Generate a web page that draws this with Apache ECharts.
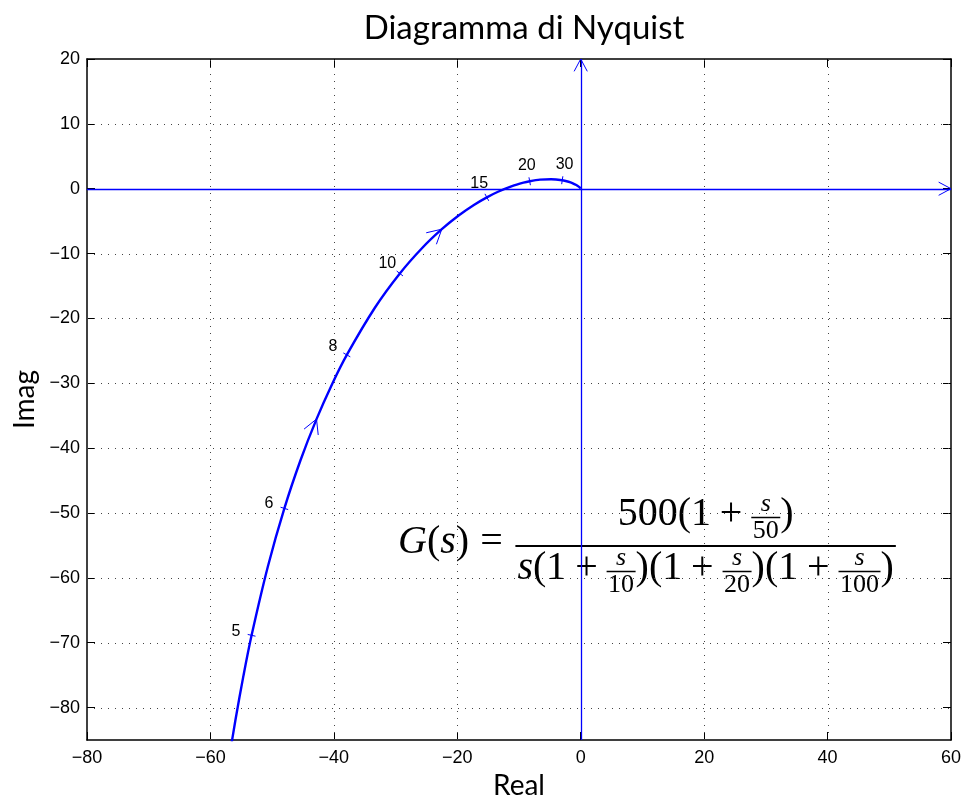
<!DOCTYPE html>
<html><head><meta charset="utf-8">
<script src="https://cdn.jsdelivr.net/npm/echarts@6/dist/echarts.min.js"></script>
<style>html,body{margin:0;padding:0;background:#fff}#c{width:963px;height:796px}</style>
</head><body><div id="c"></div>
<script>
// ---- data ----
const omega    = [4, 4.3, 4.5, 4.75, 5, 5.5, 6, 6.5, 7, 7.5, 8, 9, 10, 11, 12, 13, 14, 15, 16, 17.5, 19, 20, 22, 25, 30, 35, 40, 50, 70, 100, 200, 1000];
const realPart = [-58.46, -56.96, -55.94, -54.64, -53.33, -50.67, -48.02, -45.39, -42.81, -40.31, -37.90, -33.38, -29.31, -25.69, -22.51, -19.73, -17.31, -15.21, -13.40, -11.13, -9.29, -8.27, -6.60, -4.81, -2.99, -1.97, -1.36, -0.72, -0.27, -0.09, -0.01, 0];
const imagPart = [-97.96, -87.88, -81.87, -75.04, -68.86, -58.18, -49.29, -41.83, -35.52, -30.17, -25.62, -18.39, -13.07, -9.14, -6.24, -4.09, -2.50, -1.33, -0.47, 0.40, 0.93, 1.15, 1.40, 1.47, 1.31, 1.07, 0.87, 0.57, 0.28, 0.13, 0.02, 0];
const markOmega  = [5, 6, 8, 10, 15, 20, 30];
const markLabels = ['5', '6', '8', '10', '15', '20', '30'];
const arrowOmega = [7, 12];
const xTicks = [-80, -60, -40, -20, 0, 20, 40, 60];
const yTicks = [-80, -70, -60, -50, -40, -30, -20, -10, 0, 10, 20];
const xMin = -80, xMax = 60, yMin = -85, yMax = 20;
const titleText = 'Diagramma di Nyquist';
const xName = 'Real', yName = 'Imag';

// ---- styles ----
const BLUE = '#0000ff';
const SANS = '"Liberation Sans", Arial, sans-serif';
const CMS = 'Lato, "Noto Sans", sans-serif';
const SERIF = '"Liberation Serif", "DejaVu Serif", serif';
const fmt = v => (v < 0 ? '\u2212' + Math.abs(v) : String(v));

function chevron(tip, tx, ty, len, ang) {
  const bx = -tx, by = -ty;
  const c = Math.cos(ang), s = Math.sin(ang);
  const a1 = [tip[0] + len * (bx * c - by * s), tip[1] + len * (bx * s + by * c)];
  const a2 = [tip[0] + len * (bx * c + by * s), tip[1] + len * (-bx * s + by * c)];
  return [a1, tip, a2];
}
function tangentAt(api, i) {
  const a = api.coord([realPart[i - 1], imagPart[i - 1]]);
  const b = api.coord([realPart[i + 1], imagPart[i + 1]]);
  let tx = b[0] - a[0], ty = b[1] - a[1];
  const L = Math.hypot(tx, ty) || 1;
  return [tx / L, ty / L];
}

// ---- formula layout ----
const cv = document.createElement('canvas').getContext('2d');
const M = 40, S = 26;
function fontStr(size, it) { return (it ? 'italic ' : '') + size + 'px ' + SERIF; }
function tw(text, size, it) { cv.font = fontStr(size, it); return cv.measureText(text).width; }
const MID = 0.335;
function tokWidth(t, size) {
  if (t.gap !== undefined) return t.gap * size;
  if (t.frac) return Math.max(tw(t.frac[0], S, true), tw(t.frac[1], S, false)) + 3;
  return tw(t.s, size, t.it);
}
function rowWidth(toks, size) { return toks.reduce((a, t) => a + tokWidth(t, size), 0); }
function drawRow(toks, x, base, size, out) {
  for (const t of toks) {
    const wd = tokWidth(t, size);
    if (t.frac) {
      const by = base - 10.5;
      out.push({ type: 'rect', shape: { x: x, y: by - 0.75, width: wd, height: 1.5 }, style: { fill: '#000' } });
      out.push({ type: 'text', x: x + wd / 2, y: by - 5 - MID * S, style: { text: t.frac[0], font: fontStr(S, true), fill: '#000', align: 'center', verticalAlign: 'middle' } });
      out.push({ type: 'text', x: x + wd / 2, y: by + 22 - MID * S, style: { text: t.frac[1], font: fontStr(S, false), fill: '#000', align: 'center', verticalAlign: 'middle' } });
    } else if (t.s !== undefined) {
      out.push({ type: 'text', x: x, y: base - MID * size, style: { text: t.s, font: fontStr(size, t.it), fill: '#000', align: 'left', verticalAlign: 'middle' } });
    }
    x += wd;
  }
  return x;
}
const MED = 0.222, THICK = 0.278;
const lhsToks = [{ s: 'G', it: true }, { s: '(' }, { s: 's', it: true }, { s: ')' }, { gap: THICK }, { s: '=' }, { gap: THICK }];
const numToks = [{ s: '500(1' }, { gap: MED }, { s: '+' }, { gap: MED }, { frac: ['s', '50'] }, { s: ')' }];
const denToks = [{ s: 's', it: true }, { s: '(1' }, { gap: MED }, { s: '+' }, { gap: MED }, { frac: ['s', '10'] },
  { s: ')(1' }, { gap: MED }, { s: '+' }, { gap: MED }, { frac: ['s', '20'] },
  { s: ')(1' }, { gap: MED }, { s: '+' }, { gap: MED }, { frac: ['s', '100'] }, { s: ')' }];
const formula = [];
(function () {
  const x0 = 398, base = 556;
  const xe = drawRow(lhsToks, x0, base, M, formula);
  const barX = xe + 1.5;
  const nw = rowWidth(numToks, M), dw = rowWidth(denToks, M);
  const bw = Math.max(nw, dw) + 4;
  const barY = base - 10;
  formula.push({ type: 'rect', shape: { x: barX, y: barY - 1, width: bw, height: 2 }, style: { fill: '#000' } });
  drawRow(numToks, barX + (bw - nw) / 2, barY - 18, M, formula);
  drawRow(denToks, barX + (bw - dw) / 2, barY + 36, M, formula);
})();

// ---- chart ----
const chart = echarts.init(document.getElementById('c'));
const axisCommon = {
  type: 'value', min: xMin, max: xMax, interval: 20,
  axisLine: { onZero: false, lineStyle: { color: '#000', width: 1.5 } },
  axisTick: { inside: true, length: 8, lineStyle: { color: '#000', width: 1 } },
  splitLine: { show: false }
};
const option = {
  animation: false,
  backgroundColor: '#fff',
  title: { text: titleText, left: 519, top: 7, textAlign: 'center',
    textStyle: { fontFamily: CMS, fontSize: 33, fontWeight: 'normal', color: '#000' } },
  grid: { left: 87, right: 12, top: 59, bottom: 56, containLabel: false, outerBoundsMode: 'none' },
  xAxis: [
    Object.assign({}, axisCommon, { position: 'bottom',
      axisLabel: { formatter: fmt, fontFamily: SANS, fontSize: 18, color: '#000', margin: 9 },
      name: xName, nameLocation: 'middle', nameGap: 28,
      nameTextStyle: { fontFamily: CMS, fontSize: 28, color: '#000' } }),
    Object.assign({}, axisCommon, { position: 'top', axisLabel: { show: false } })
  ],
  yAxis: [
    { type: 'value', min: yMin, max: yMax, position: 'left',
      axisLine: { onZero: false, lineStyle: { color: '#000', width: 1.5 } },
      axisTick: { inside: true, length: 8, customValues: yTicks, lineStyle: { color: '#000', width: 1 } },
      axisLabel: { customValues: yTicks, formatter: fmt, fontFamily: SANS, fontSize: 18, color: '#000', margin: 7 },
      splitLine: { show: false },
      name: yName, nameLocation: 'middle', nameGap: 47,
      nameTextStyle: { fontFamily: CMS, fontSize: 28, color: '#000' } },
    { type: 'value', min: yMin, max: yMax, position: 'right',
      axisLine: { onZero: false, lineStyle: { color: '#000', width: 1.5 } },
      axisTick: { inside: true, length: 8, customValues: yTicks, lineStyle: { color: '#000', width: 1 } },
      axisLabel: { show: false }, splitLine: { show: false } }
  ],
  graphic: formula,
  series: [
    { // dotted grid
      type: 'custom', name: 'grid', z: 1, silent: true,
      data: xTicks.filter(v => v > xMin && v < xMax && v !== 0).map(v => [v, 0])
        .concat(yTicks.filter(v => v > yMin && v < yMax && v !== 0).map(v => [v, 1])),
      renderItem(params, api) {
        const v = api.value(0), dir = api.value(1);
        let a, b;
        if (dir === 0) { a = api.coord([v, yMin]); b = api.coord([v, yMax]); }
        else { a = api.coord([xMin, v]); b = api.coord([xMax, v]); }
        const r = q => Math.round(q) + 0.5;
        return { type: 'line', shape: dir === 0 ? { x1: r(a[0]), y1: a[1], x2: r(b[0]), y2: b[1] } : { x1: a[0], y1: r(a[1]), x2: b[0], y2: r(b[1]) },
          style: { stroke: '#444', lineWidth: 1, lineDash: [1, 6] } };
      }
    },
    { // blue real / imaginary axes with arrows
      type: 'custom', name: 'axes', z: 5, silent: true,
      encode: { x: [0, 2], y: [1, 3] },
      data: [[xMin, 0, xMax, 0], [0, yMin, 0, yMax]],
      renderItem(params, api) {
        const p0 = api.coord([api.value(0), api.value(1)]);
        const p1 = api.coord([api.value(2), api.value(3)]);
        let tx = p1[0] - p0[0], ty = p1[1] - p0[1];
        const L = Math.hypot(tx, ty); tx /= L; ty /= L;
        const r = q => Math.round(q) + 0.5;
        const horiz = Math.abs(ty) < 0.5;
        return { type: 'group', children: [
          { type: 'line', shape: horiz ? { x1: p0[0], y1: r(p0[1]), x2: p1[0], y2: r(p1[1]) } : { x1: r(p0[0]), y1: p0[1], x2: r(p1[0]), y2: p1[1] },
            style: { stroke: BLUE, lineWidth: 1.3 } },
          { type: 'polyline', shape: { points: chevron(p1, tx, ty, 14, 0.49) }, style: { stroke: BLUE, fill: null, lineWidth: 1 } }
        ] };
      }
    },
    { // Nyquist curve
      type: 'line', name: 'G(jw)', z: 6, showSymbol: false, symbol: 'none', smooth: 0.25, clip: true,
      data: realPart.map((re, i) => [re, imagPart[i]]),
      lineStyle: { color: BLUE, width: 2.4 }
    },
    { // frequency marks
      type: 'custom', name: 'marks', z: 7, silent: true,
      data: markOmega.map(w => { const i = omega.indexOf(w); return [realPart[i], imagPart[i], i]; }),
      renderItem(params, api) {
        const i = api.value(2);
        const p = api.coord([api.value(0), api.value(1)]);
        const [tx, ty] = tangentAt(api, i);
        const nx = ty, ny = -tx;
        return { type: 'group', children: [
          { type: 'line', shape: { x1: p[0] - nx * 4, y1: p[1] - ny * 4, x2: p[0] + nx * 4, y2: p[1] + ny * 4 }, style: { stroke: BLUE, lineWidth: 1 } },
          { type: 'text', x: p[0] + nx * 16, y: p[1] + ny * 16,
            style: { text: markLabels[params.dataIndex], font: '16px ' + SANS, fill: '#000', align: 'center', verticalAlign: 'middle' } }
        ] };
      }
    },
    { // direction arrows
      type: 'custom', name: 'arrows', z: 7, silent: true,
      data: arrowOmega.map(w => { const i = omega.indexOf(w); return [realPart[i], imagPart[i], i]; }),
      renderItem(params, api) {
        const i = api.value(2);
        const p = api.coord([api.value(0), api.value(1)]);
        const [tx, ty] = tangentAt(api, i);
        return { type: 'polyline', shape: { points: chevron(p, tx, ty, 16, 0.5) }, style: { stroke: BLUE, fill: null, lineWidth: 1 } };
      }
    }
  ]
};
chart.setOption(option);
</script>
</body></html>
